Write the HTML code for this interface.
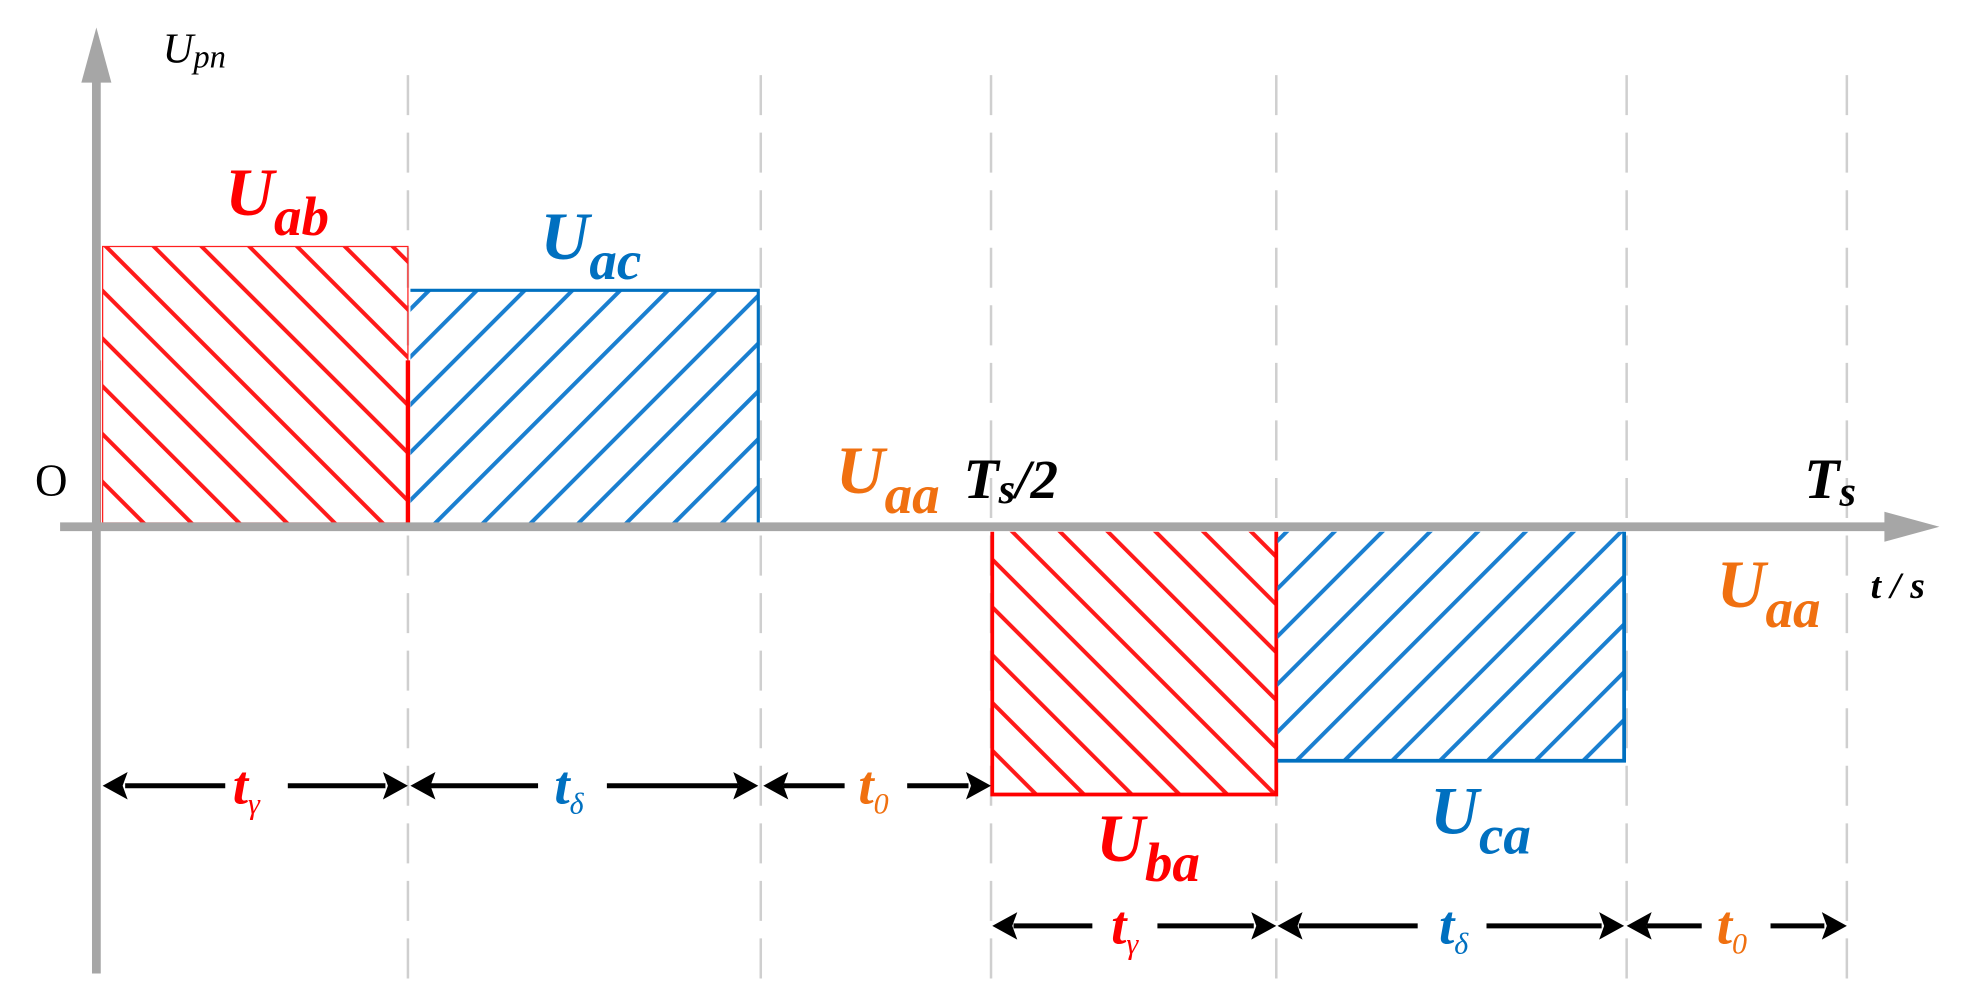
<!DOCTYPE html>
<html><head><meta charset="utf-8"><style>html,body{margin:0;padding:0;background:#fff}svg{display:block}</style></head>
<body>
<svg width="1962" height="1006" viewBox="0 0 1568 804" xmlns="http://www.w3.org/2000/svg" font-family="'Liberation Serif', serif" font-style="italic" font-weight="bold">
<defs>
<pattern id="hr" patternUnits="userSpaceOnUse" width="27" height="27" patternTransform="rotate(-45)"><rect x="0" y="0" width="3.2" height="27" fill="#ff1a1a"/></pattern>
<pattern id="hb" patternUnits="userSpaceOnUse" width="27" height="27" patternTransform="rotate(45)"><rect x="0" y="0" width="3.2" height="27" fill="#1a7fd0"/></pattern>
</defs>
<g stroke="#cfcfcf" stroke-width="2" stroke-dasharray="32,14">
<line x1="326" y1="60" x2="326" y2="795"/><line x1="608" y1="60" x2="608" y2="795"/><line x1="792" y1="60" x2="792" y2="795"/><line x1="1020" y1="60" x2="1020" y2="795"/><line x1="1300" y1="60" x2="1300" y2="795"/><line x1="1476" y1="60" x2="1476" y2="795"/>
</g>
<rect x="82" y="197" width="244" height="221" fill="url(#hr)" stroke="#ff2020" stroke-width="1"/>
<path d="M79,288 V420 H326 V288" fill="none" stroke="#ff0000" stroke-width="3.5"/>
<rect x="328" y="232" width="278" height="186" fill="url(#hb)"/>
<path d="M328,232 H606 V418" fill="none" stroke="#0070c0" stroke-width="2.5"/>
<rect x="793" y="425" width="227" height="210" fill="url(#hr)"/>
<path d="M793,425 V635 H1020 V425" fill="none" stroke="#ff0000" stroke-width="3"/>
<rect x="1021" y="425" width="277" height="183" fill="url(#hb)"/>
<path d="M1021,608 H1298 V425" fill="none" stroke="#0070c0" stroke-width="3"/>
<line x1="77" y1="55" x2="77" y2="778" stroke="#a6a6a6" stroke-width="7"/>
<polygon points="77,22 65,66 89,66" fill="#a6a6a6"/>
<line x1="48" y1="421" x2="1515" y2="421" stroke="#a6a6a6" stroke-width="7"/>
<polygon points="1550,421 1506,409 1506,433" fill="#a6a6a6"/>
<g stroke="#000" stroke-width="4">
<line x1="100" y1="628" x2="180" y2="628"/><line x1="230" y1="628" x2="308" y2="628"/>
<line x1="344" y1="628" x2="430" y2="628"/><line x1="485" y1="628" x2="590" y2="628"/>
<line x1="626" y1="628" x2="675" y2="628"/><line x1="725" y1="628" x2="774" y2="628"/>
<line x1="810" y1="740" x2="873" y2="740"/><line x1="925" y1="740" x2="1002" y2="740"/>
<line x1="1038" y1="740" x2="1133" y2="740"/><line x1="1188" y1="740" x2="1280" y2="740"/>
<line x1="1316" y1="740" x2="1360" y2="740"/><line x1="1415" y1="740" x2="1458" y2="740"/>
</g>
<g fill="#000">
<polygon points="82,628 102,617 98,628 102,639"/><polygon points="326,628 306,617 310,628 306,639"/>
<polygon points="328,628 348,617 344,628 348,639"/><polygon points="606,628 586,617 590,628 586,639"/>
<polygon points="610,628 630,617 626,628 630,639"/><polygon points="792,628 772,617 776,628 772,639"/>
<polygon points="793,740 813,729 809,740 813,751"/><polygon points="1020,740 1000,729 1004,740 1000,751"/>
<polygon points="1021,740 1041,729 1037,740 1041,751"/><polygon points="1298,740 1278,729 1282,740 1278,751"/>
<polygon points="1300,740 1320,729 1316,740 1320,751"/><polygon points="1476,740 1456,729 1460,740 1456,751"/>
</g>
<text x="130" y="50" font-size="34" font-weight="normal" fill="#000">U<tspan font-size="26" dy="4">pn</tspan></text>
<text x="28" y="396" font-size="36" font-weight="normal" font-style="normal" fill="#000">O</text>
<text x="180" y="172" font-size="54" fill="#ff0000">U<tspan font-size="44" dy="16">ab</tspan></text>
<text x="432" y="207" font-size="54" fill="#0070c0">U<tspan font-size="44" dy="16">ac</tspan></text>
<text x="668" y="394" font-size="54" fill="#f07010">U<tspan font-size="44" dy="16">aa</tspan></text>
<text x="770" y="398" font-size="46" fill="#000">T<tspan font-size="34" dy="4">s</tspan><tspan font-size="44" dy="-4">/2</tspan></text>
<text x="1442" y="398" font-size="46" fill="#000">T<tspan font-size="34" dy="6">s</tspan></text>
<text x="1495" y="478" font-size="30" fill="#000">t / s</text>
<text x="1372" y="485" font-size="54" fill="#f07010">U<tspan font-size="44" dy="16">aa</tspan></text>
<text x="876" y="688" font-size="54" fill="#ff0000">U<tspan font-size="44" dy="16">ba</tspan></text>
<text x="1143" y="666" font-size="54" fill="#0070c0">U<tspan font-size="44" dy="16">ca</tspan></text>
<text x="186" y="642" font-size="44" fill="#ff0000">t<tspan font-size="24" dy="8" font-weight="normal">γ</tspan></text>
<text x="443" y="642" font-size="44" fill="#0070c0">t<tspan font-size="24" dy="8" font-weight="normal">δ</tspan></text>
<text x="686" y="642" font-size="44" fill="#f07010">t<tspan font-size="24" dy="8" font-weight="normal">0</tspan></text>
<text x="888" y="754" font-size="44" fill="#ff0000">t<tspan font-size="24" dy="8" font-weight="normal">γ</tspan></text>
<text x="1150" y="754" font-size="44" fill="#0070c0">t<tspan font-size="24" dy="8" font-weight="normal">δ</tspan></text>
<text x="1372" y="754" font-size="44" fill="#f07010">t<tspan font-size="24" dy="8" font-weight="normal">0</tspan></text>
</svg>
</body></html>
